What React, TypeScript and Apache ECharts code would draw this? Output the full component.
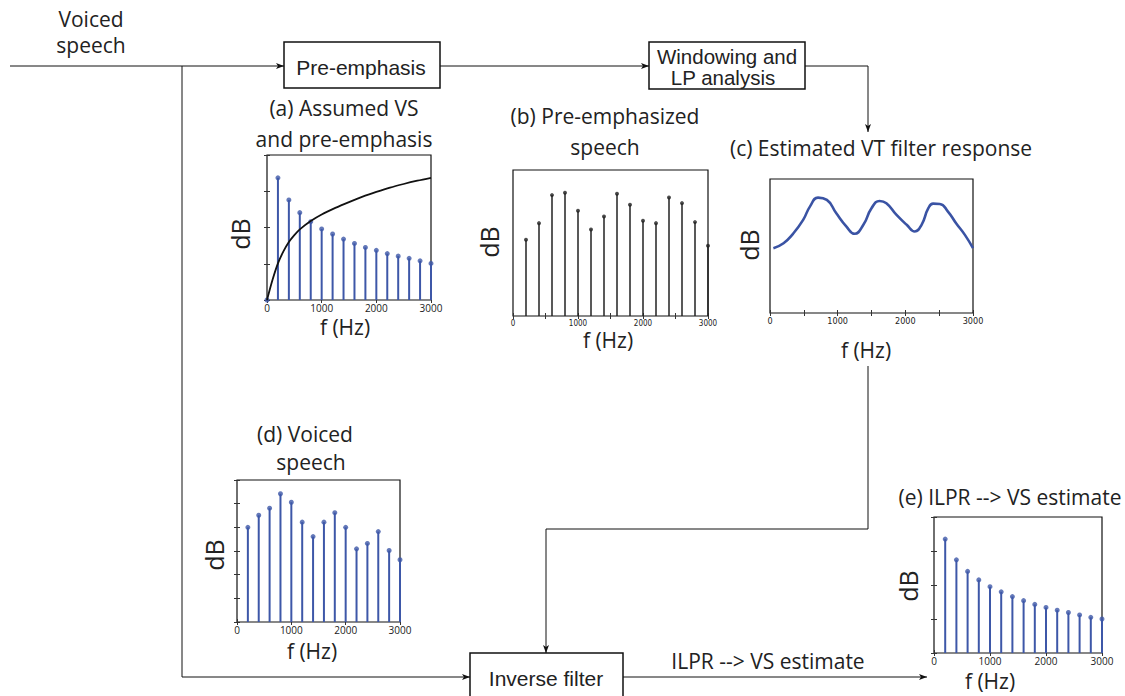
import React, { useEffect, useRef } from "react";
import * as echarts from "echarts";

// ---- data ----
const harmonics = [200, 400, 600, 800, 1000, 1200, 1400, 1600, 1800, 2000, 2200, 2400, 2600, 2800, 3000];
// (a) assumed voice source spectrum
const assumedVS = [3.37, 2.76, 2.41, 2.16, 1.96, 1.82, 1.68, 1.56, 1.45, 1.37, 1.28, 1.21, 1.15, 1.08, 1.01];
// (a) pre-emphasis curve
const preEmphFreq = [0, 100, 200, 300, 400, 500, 600, 800, 1000, 1250, 1500, 1750, 2000, 2250, 2500, 2750, 3000];
const preEmphVal = [0, 0.55, 1.01, 1.34, 1.6, 1.79, 1.95, 2.18, 2.36, 2.54, 2.7, 2.85, 2.98, 3.1, 3.2, 3.29, 3.37];
// (b) pre-emphasized speech
const preEmphSpeech = [52.2, 63.6, 82.8, 84.4, 72.1, 59.3, 68.2, 83.8, 76.2, 65.2, 63.6, 81.2, 77.3, 64.3, 48.1];
// (c) estimated VT filter response
const vtFreq = [50, 200, 340, 490, 590, 710, 840, 980, 1130, 1250, 1380, 1500, 1620, 1720, 1870, 2020, 2140, 2240, 2340, 2410, 2510, 2630, 2750, 2880, 3000];
const vtVal = [48.4, 52.1, 59.1, 69.5, 79.4, 86.1, 84.4, 74.4, 64.5, 59.1, 65.8, 78.2, 83.6, 81.9, 73.2, 65.8, 60.8, 65.8, 78.2, 81.6, 81.4, 75.7, 67.0, 58.3, 48.4];
// (d) voiced speech
const voicedSpeech = [4.0, 4.51, 4.81, 5.42, 5.06, 4.22, 3.61, 4.22, 4.62, 4.0, 3.09, 3.32, 3.82, 3.02, 2.63];
// (e) ILPR -> VS estimate
const vsEstimate = [3.35, 2.74, 2.4, 2.15, 1.95, 1.8, 1.66, 1.54, 1.43, 1.34, 1.26, 1.19, 1.12, 1.05, 1.0];
const freqTicks = [0, 1000, 2000, 3000];

const BLUE = "#3d57a8";
const TITLE_FONT = "'Open Sans', 'Noto Sans', sans-serif";
const BOX_FONT = "'Liberation Sans', Arial, sans-serif";
const NARROW_FONT = "'DejaVu Sans Condensed', 'Liberation Sans Narrow', sans-serif";

type GridSpec = {
  left: number; top: number; width: number; height: number;
  yMax: number; yInterval: number; yTicks: boolean;
  xMinor: boolean; labelSize: number; labelFont: string; labelMargin: number;
};

const grids: GridSpec[] = [
  { left: 267, top: 155, width: 164, height: 145, yMax: 4, yInterval: 1, yTicks: true, xMinor: false, labelSize: 10, labelFont: TITLE_FONT, labelMargin: 3 },
  { left: 513, top: 170, width: 195, height: 146, yMax: 100, yInterval: 100, yTicks: false, xMinor: true, labelSize: 8, labelFont: NARROW_FONT, labelMargin: 3 },
  { left: 770, top: 179, width: 203, height: 134, yMax: 100, yInterval: 100, yTicks: false, xMinor: true, labelSize: 9, labelFont: NARROW_FONT, labelMargin: 3 },
  { left: 237, top: 480, width: 163, height: 142, yMax: 6, yInterval: 1, yTicks: true, xMinor: false, labelSize: 10, labelFont: TITLE_FONT, labelMargin: 3 },
  { left: 934, top: 517, width: 168, height: 136, yMax: 4, yInterval: 1, yTicks: true, xMinor: false, labelSize: 10, labelFont: TITLE_FONT, labelMargin: 3 },
];

function buildOption() {
  const grid: any[] = [];
  const xAxis: any[] = [];
  const yAxis: any[] = [];
  grids.forEach((g, i) => {
    grid.push({ left: g.left, top: g.top, width: g.width, height: g.height, show: true, borderColor: "#111", borderWidth: 1.2, backgroundColor: "#fff" });
    const xBase = {
      type: "value", gridIndex: i, min: 0, max: 3000, interval: g.xMinor ? 500 : 1000,
      axisLine: { show: false }, splitLine: { show: false },
      axisTick: { show: true, inside: true, length: 3, lineStyle: { color: "#333", width: 1 } },
    };
    xAxis.push({
      ...xBase, position: "bottom",
      axisLabel: {
        show: true, fontSize: g.labelSize, fontFamily: g.labelFont, color: "#222", margin: g.labelMargin,
        formatter: (v: number) => (freqTicks.includes(v) ? String(v) : ""),
      },
    });
    xAxis.push({ ...xBase, position: "top", axisLabel: { show: false } });
    const yBase = {
      type: "value", gridIndex: i, min: 0, max: g.yMax, interval: g.yInterval,
      axisLine: { show: false }, splitLine: { show: false }, axisLabel: { show: false },
      axisTick: { show: g.yTicks, inside: true, length: 3, lineStyle: { color: "#333", width: 1 } },
    };
    yAxis.push({ ...yBase, position: "left" });
    yAxis.push({ ...yBase, position: "right" });
  });

  const stems = (gi: number, vals: number[], color: string, width: number, dot: number, extra: number[][] = []) => {
    const data = [...extra, ...harmonics.map((f, k) => [f, vals[k]])];
    return [
      { type: "bar", xAxisIndex: gi * 2, yAxisIndex: gi * 2, data, barWidth: width, itemStyle: { color }, silent: true },
      { type: "scatter", xAxisIndex: gi * 2, yAxisIndex: gi * 2, data, symbolSize: dot, itemStyle: { color }, silent: true, z: 3 },
    ];
  };

  const series: any[] = [
    ...stems(0, assumedVS, BLUE, 2, 5, [[0, 0]]),
    {
      type: "line", xAxisIndex: 0, yAxisIndex: 0, smooth: 0.3, showSymbol: false,
      data: preEmphFreq.map((f, k) => [f, preEmphVal[k]]),
      lineStyle: { color: "#111", width: 1.8 }, z: 4,
    },
    ...stems(1, preEmphSpeech, "#222", 1.5, 4),
    {
      type: "line", xAxisIndex: 4, yAxisIndex: 4, smooth: 0.5, showSymbol: false,
      data: vtFreq.map((f, k) => [f, vtVal[k]]),
      lineStyle: { color: "#3a53a4", width: 2.6 },
    },
    ...stems(3, voicedSpeech, BLUE, 2, 5),
    ...stems(4, vsEstimate, BLUE, 2, 5),
  ];

  const txt = (text: string, x: number, y: number, size: number, font = TITLE_FONT, extra: any = {}) => ({
    type: "text", x, y, ...extra, z: 100,
    style: { text, x: 0, y: 0, fill: "#222", font: `${size}px ${font}`, align: "center", verticalAlign: "middle" },
  });
  const rotTxt = (text: string, x: number, y: number, size: number) =>
    txt(text, x, y, size, TITLE_FONT, { rotation: Math.PI / 2 });
  const ln = (x1: number, y1: number, x2: number, y2: number) => ({
    type: "line", z: 50, shape: { x1, y1, x2, y2 }, style: { stroke: "#111", lineWidth: 1 },
  });
  const arrowR = (x: number, y: number) => ({
    type: "polygon", z: 60, shape: { points: [[x, y], [x - 8, y - 3], [x - 6, y], [x - 8, y + 3]] }, style: { fill: "#111" },
  });
  const arrowD = (x: number, y: number) => ({
    type: "polygon", z: 60, shape: { points: [[x, y], [x - 3, y - 8], [x, y - 6], [x + 3, y - 8]] }, style: { fill: "#111" },
  });
  const box = (x: number, y: number, w: number, h: number) => ({
    type: "rect", z: 55, shape: { x, y, width: w, height: h }, style: { fill: "#fff", stroke: "#111", lineWidth: 1.5 },
  });

  const graphic: any[] = [
    // signal paths
    ln(10, 66, 284, 66), arrowR(284, 66),
    ln(182, 66, 182, 677), ln(182, 677, 470, 677), arrowR(470, 677),
    ln(440, 66, 649, 66), arrowR(649, 66),
    ln(805, 66, 868, 66), ln(868, 66, 868, 132), arrowD(868, 132),
    ln(868, 366, 868, 529), ln(868, 529, 546, 529), ln(546, 529, 546, 653), arrowD(546, 653),
    ln(623, 677, 927, 677), arrowR(927, 677),
    // blocks
    box(284, 42, 156, 46), txt("Pre-emphasis", 361, 67, 21, BOX_FONT),
    box(649, 42, 156, 47), txt("Windowing and", 727, 56, 20.5, BOX_FONT), txt("LP analysis", 723, 77, 20.5, BOX_FONT),
    box(470, 653, 153, 60), txt("Inverse filter", 546, 678, 21, BOX_FONT),
    // labels
    txt("Voiced", 91, 19, 21), txt("speech", 91, 45, 21),
    txt("(a) Assumed VS", 344, 108, 21), txt("and pre-emphasis", 344, 139, 21),
    txt("(b) Pre-emphasized", 605, 116, 21), txt("speech", 605, 147, 21),
    txt("(c) Estimated VT filter response", 881, 148, 21),
    txt("(d) Voiced", 305, 434, 21), txt("speech", 311, 462, 21),
    txt("(e) ILPR --> VS estimate", 1010, 497, 21),
    txt("ILPR --> VS estimate", 768, 661, 21),
    rotTxt("dB", 240, 234, 25), rotTxt("dB", 489, 242, 25), rotTxt("dB", 749, 245, 25),
    rotTxt("dB", 214, 555, 25), rotTxt("dB", 908, 586, 25),
    txt("f (Hz)", 345, 327, 21), txt("f (Hz)", 608, 340, 21), txt("f (Hz)", 866, 350, 21),
    txt("f (Hz)", 312, 651, 21), txt("f (Hz)", 990, 681, 21),
  ];

  return { animation: false, backgroundColor: "#fff", grid, xAxis, yAxis, series, graphic };
}

export default function App() {
  const ref = useRef<HTMLDivElement>(null);
  useEffect(() => {
    if (!ref.current) return;
    const chart = echarts.init(ref.current, undefined, { renderer: "svg" });
    chart.setOption(buildOption() as any);
    return () => chart.dispose();
  }, []);
  return <div ref={ref} style={{ position: "absolute", left: 0, top: 0, width: 1125, height: 696, background: "#fff" }} />;
}
